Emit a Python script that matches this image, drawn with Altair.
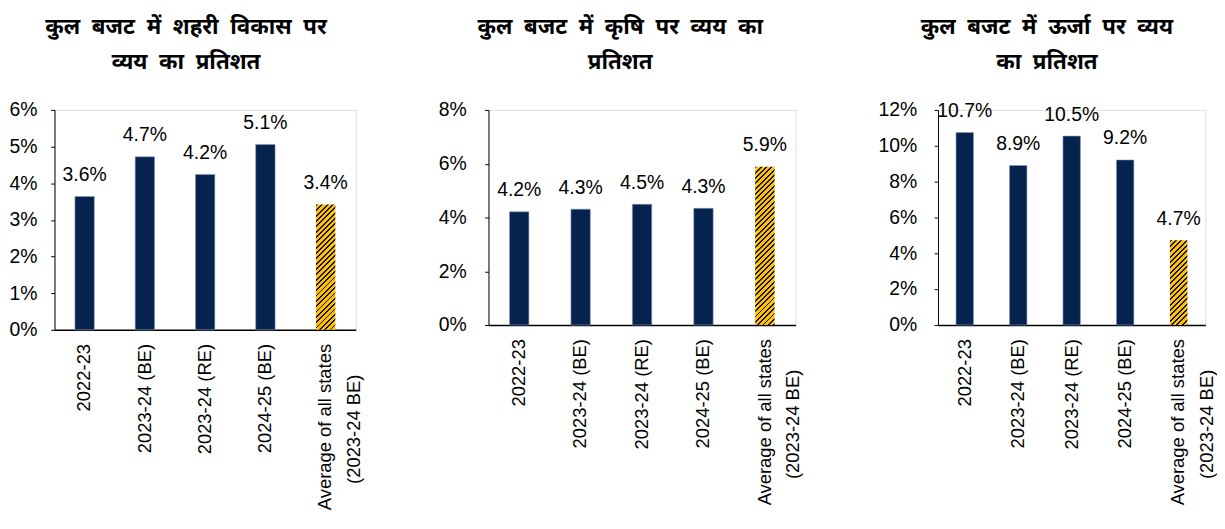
import altair as alt
import pandas as pd

# ---------------- data ----------------
categories = ["2022-23", "2023-24 (BE)", "2023-24 (RE)", "2024-25 (BE)",
              "Average of all states\n(2023-24 BE)"]
urban = [0.0364, 0.0472, 0.0424, 0.0506, 0.0342]
agri = [0.0421, 0.0431, 0.0449, 0.0434, 0.0589]
energy = [0.1074, 0.0890, 0.1054, 0.0921, 0.0473]
is_avg = [False, False, False, False, True]

titles = [
    ["कुल बजट में शहरी विकास पर", "व्यय का प्रतिशत"],
    ["कुल बजट में कृषि पर व्यय का", "प्रतिशत"],
    ["कुल बजट में ऊर्जा पर व्यय", "का प्रतिशत"],
]
y_max = [0.06, 0.08, 0.12]
y_step = [0.01, 0.02, 0.02]

# ---------------- style ----------------
FONT = "Liberation Sans, Arial, sans-serif"
DEV_FONT = "Noto Sans Devanagari, Lohit Devanagari, Mangal, Noto Sans, sans-serif"
NAVY = "#06224f"
GOLD = "#ffc000"
HATCH = "#141414"
FS = 20
XFS = 19
WORD_GAP = "\u00a0\u00a0"


def hatch_gradient(w, h, period=5.5, line=2.0):
    """Linear gradient with hard stops emulating an upward diagonal hatch."""
    total = w + h
    L = (w * w + h * h) / total
    stops = []
    k = 0
    while k * period < total:
        a = k * period / total
        b = min((k * period + line) / total, 1.0)
        c = min((k + 1) * period / total, 1.0)
        stops += [
            {"offset": a, "color": HATCH},
            {"offset": b, "color": HATCH},
            {"offset": b, "color": GOLD},
            {"offset": c, "color": GOLD},
        ]
        k += 1
    return {"gradient": "linear", "x1": 0, "y1": 0,
            "x2": w / L, "y2": h / L, "stops": stops}


# trailing no-break spaces (kept from trimming by a zero-width char) centre line 2
pad = "\u00a0" * 6 + "\u200b"
label_expr = ("split(datum.label, '\\n')[1] ? "
              "[split(datum.label, '\\n')[0], split(datum.label, '\\n')[1] + '" + pad + "']"
              " : datum.label")


def panel(vals, title, ymax, ystep, width, height, barsize, ypad):
    df = pd.DataFrame({"cat": categories, "val": vals, "avg": is_avg})
    n = int(round(ymax / ystep))
    ticks = [round(i * ystep, 4) for i in range(n + 1)]
    x = alt.X("cat:N", sort=categories,
              scale=alt.Scale(domain=categories, paddingInner=0, paddingOuter=0),
              axis=alt.Axis(title=None, labelAngle=-90, labelExpr=label_expr,
                            ticks=False, domainColor="black", domainWidth=1.5,
                            labelFont=FONT, labelFontSize=XFS, labelColor="black",
                            labelPadding=14, labelLineHeight=29, labelLimit=400))
    y = alt.Y("val:Q",
              scale=alt.Scale(domain=[0, ymax], nice=False, zero=True),
              axis=alt.Axis(title=None, format=".0%", values=ticks, grid=False,
                            domainColor="black", domainWidth=1, tickColor="black",
                            tickSize=4, labelFont=FONT, labelFontSize=FS,
                            labelColor="black", labelPadding=ypad))
    base = alt.Chart(df)
    bars = base.transform_filter("!datum.avg").mark_bar(
        size=barsize, color=NAVY, stroke="#8a9bb8", strokeWidth=0.6
    ).encode(x=x, y=y)
    h_hatch = vals[4] / ymax * height
    hatch = base.transform_filter("datum.avg").mark_bar(
        size=barsize, fill=hatch_gradient(barsize, h_hatch)
    ).encode(x=x, y=y)
    text = base.mark_text(dy=-16, baseline="alphabetic", font=FONT,
                          fontSize=FS, color="black").encode(
        x=x, y=y, text=alt.Text("val:Q", format=".1%"))
    lines = [ln.replace(" ", WORD_GAP) for ln in title]
    return alt.layer(bars, hatch, text).properties(
        width=width, height=height,
        title=alt.TitleParams(text=lines, font=DEV_FONT, fontSize=23,
                              fontWeight="bold", lineHeight=36, anchor="middle",
                              frame="bounds", offset=27, color="black"))


p1 = panel(urban, titles[0], y_max[0], y_step[0], 311, 227, 20, 14)
p2 = panel(agri, titles[1], y_max[1], y_step[1], 317, 222, 20, 19)
p3 = panel(energy, titles[2], y_max[2], y_step[2], 276, 222, 18, 18)

chart = alt.hconcat(p1, p2, p3, spacing=76).properties(padding=0).configure_view(
    stroke=None).configure(background="white")

chart.save("out.html", embed_options={"renderer": "svg", "actions": False})
